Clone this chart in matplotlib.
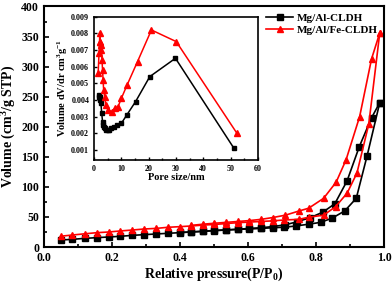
import matplotlib
matplotlib.use('Agg')
import matplotlib.pyplot as plt
from matplotlib.ticker import MultipleLocator

plt.rcParams['font.family'] = ['Liberation Serif', 'DejaVu Serif']
plt.rcParams['font.weight'] = 'bold'
plt.rcParams['mathtext.fontset'] = 'custom'
plt.rcParams['mathtext.rm'] = 'Liberation Serif:bold'
plt.rcParams['mathtext.default'] = 'rm'

# isotherms: Mg/Al-CLDH (black)
p_ads_al = [0.05, 0.084, 0.12, 0.156, 0.19, 0.224, 0.26, 0.295, 0.33, 0.364, 0.40, 0.433, 0.468, 0.50,
            0.535, 0.57, 0.604, 0.638, 0.672, 0.707, 0.741, 0.778, 0.813, 0.847, 0.884, 0.918, 0.95, 0.987]
v_ads_al = [11.7, 12.8, 14.4, 15.6, 16.7, 17.8, 19.4, 20.6, 21.7, 22.8, 23.9, 25.0, 26.0, 27.2,
            28.3, 29.4, 30.0, 31.0, 32.0, 33.0, 35.0, 38.0, 41.0, 48.0, 60.0, 81.0, 152.0, 240.0]
p_des_al = [0.987, 0.963, 0.927, 0.891, 0.855, 0.82, 0.783, 0.744, 0.71, 0.672, 0.638, 0.604, 0.57,
            0.535, 0.50, 0.468, 0.433, 0.40]
v_des_al = [240.0, 215.0, 167.0, 110.0, 72.0, 58.0, 49.0, 42.0, 37.0, 34.0, 32.0, 31.0, 29.5,
            28.5, 27.5, 26.3, 25.2, 24.2]

# isotherms: Mg/Al/Fe-CLDH (red)
p_ads_fe = [0.05, 0.084, 0.12, 0.156, 0.19, 0.224, 0.26, 0.295, 0.33, 0.364, 0.40, 0.433, 0.468, 0.50,
            0.535, 0.57, 0.604, 0.638, 0.672, 0.707, 0.749, 0.778, 0.822, 0.857, 0.891, 0.92, 0.955, 0.987]
v_ads_fe = [18.0, 20.0, 22.0, 23.9, 25.0, 26.7, 28.3, 30.0, 31.0, 32.8, 33.9, 35.0, 36.5, 37.5,
            39.0, 40.5, 41.5, 42.5, 43.5, 45.0, 46.0, 49.5, 53.0, 67.0, 89.5, 123.0, 205.0, 356.0]
p_des_fe = [0.987, 0.963, 0.928, 0.888, 0.859, 0.822, 0.778, 0.75, 0.71, 0.672, 0.638, 0.604, 0.57,
            0.535, 0.50, 0.468, 0.433]
v_des_fe = [356.0, 313.0, 217.0, 145.0, 108.0, 81.0, 64.5, 60.0, 53.0, 49.0, 46.0, 44.0, 42.5,
            41.0, 39.5, 38.0, 36.0]

# pore size distribution (inset)
pore_al = [1.7, 1.9, 2.1, 2.3, 2.5, 2.8, 3.1, 3.4, 3.7, 4.0, 4.5, 5.0, 5.6, 6.3, 7.2, 8.5, 10.0,
           12.0, 15.2, 20.4, 29.8, 51.2]
dv_al = [0.0042, 0.0043, 0.0042, 0.0040, 0.0038, 0.0032, 0.0027, 0.0025, 0.0024, 0.0023, 0.0022,
         0.0022, 0.0022, 0.0023, 0.0024, 0.0025, 0.0026, 0.0031, 0.0039, 0.0054, 0.0065, 0.0011]
pore_fe = [1.5, 1.8, 2.0, 2.1, 2.3, 2.5, 2.7, 2.9, 3.1, 3.3, 3.5, 3.9, 4.3, 5.1, 6.4, 7.6, 8.8,
           10.0, 12.1, 15.9, 21.0, 30.1, 52.3]
dv_fe = [0.0056, 0.0068, 0.0075, 0.0080, 0.0075, 0.0073, 0.0070, 0.0064, 0.0058, 0.0052, 0.0046,
         0.0042, 0.0037, 0.0034, 0.0033, 0.0035, 0.0036, 0.0041, 0.0049, 0.0063, 0.0082, 0.0075, 0.0020]

fig = plt.figure(figsize=(3.92, 2.82), dpi=100)
ax = fig.add_axes([0.112, 0.124, 0.868, 0.853])

ms = 4
lw = 1.2
ax.plot(p_ads_al, v_ads_al, '-s', color='black', ms=ms, lw=lw, label='Mg/Al-CLDH')
ax.plot(p_des_al, v_des_al, '-s', color='black', ms=ms, lw=lw)
ax.plot(p_ads_fe, v_ads_fe, '-^', color='red', ms=ms + 0.5, lw=lw, label='Mg/Al/Fe-CLDH')
ax.plot(p_des_fe, v_des_fe, '-^', color='red', ms=ms + 0.5, lw=lw)

ax.set_xlim(0, 1.0)
ax.set_ylim(0, 400)
ax.xaxis.set_major_locator(MultipleLocator(0.2))
ax.xaxis.set_minor_locator(MultipleLocator(0.1))
ax.yaxis.set_major_locator(MultipleLocator(50))
ax.yaxis.set_minor_locator(MultipleLocator(25))
ax.tick_params(which='both', direction='in', labelsize=8.5, width=1.2)
ax.tick_params(which='major', length=3.5)
ax.tick_params(which='minor', length=2)
ax.set_xticklabels([f'{v:.1f}' for v in ax.get_xticks()])
for s in ax.spines.values():
    s.set_linewidth(1.5)
ax.set_xlabel('Relative pressure(P/P$_0$)', fontsize=10, fontweight='bold', labelpad=1)
ax.set_ylabel('Volume (cm$^3$/g STP)', fontsize=10, fontweight='bold', labelpad=2)
ax.legend(loc='upper right', frameon=False, fontsize=8, handlelength=2.4,
          borderaxespad=0.2, handletextpad=0.3, labelspacing=0.2)

# inset
axin = fig.add_axes([0.240, 0.433, 0.418, 0.508])
axin.plot(pore_al, dv_al, '-s', color='black', ms=3.2, lw=1.1)
axin.plot(pore_fe, dv_fe, '-^', color='red', ms=3.7, lw=1.1)
axin.set_xlim(0, 60)
axin.set_ylim(0.0004, 0.009)
axin.xaxis.set_major_locator(MultipleLocator(10))
axin.xaxis.set_minor_locator(MultipleLocator(5))
axin.tick_params(which='both', direction='in', labelsize=5.8, width=1)
axin.tick_params(which='major', length=2.5)
axin.tick_params(which='minor', length=1.5)
axin.set_yticks([0.001 * i for i in range(1, 10)])
axin.set_yticklabels([f'{0.001 * i:.3f}' for i in range(1, 10)])
for s in axin.spines.values():
    s.set_linewidth(1.2)
axin.set_xlabel('Pore size/nm', fontsize=7.5, fontweight='bold', labelpad=0)
axin.set_ylabel('Volume dV/dr cm$^{3}$g$^{-1}$', fontsize=7.5, fontweight='bold', labelpad=1)

fig.savefig('out.png', dpi=100)
